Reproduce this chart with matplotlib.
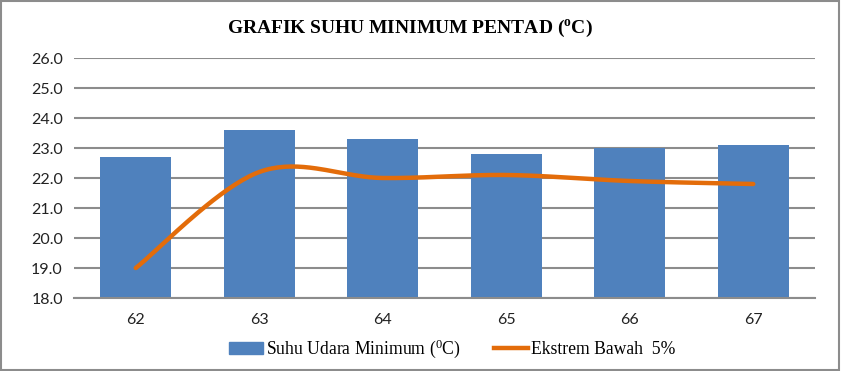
import numpy as np
import matplotlib
matplotlib.use("Agg")
import matplotlib.pyplot as plt
from matplotlib.patches import Rectangle
from matplotlib.lines import Line2D

categories = ["62", "63", "64", "65", "66", "67"]
suhu_min = [22.7, 23.6, 23.3, 22.8, 23.0, 23.1]
ekstrem_bawah = [19.0, 22.2, 22.0, 22.1, 21.9, 21.8]
yticks = [18.0, 19.0, 20.0, 21.0, 22.0, 23.0, 24.0, 25.0, 26.0]

plt.rcParams['mathtext.fontset'] = 'custom'
plt.rcParams['mathtext.rm'] = 'Liberation Serif'
plt.rcParams['mathtext.it'] = 'Liberation Serif'
plt.rcParams['mathtext.bf'] = 'Liberation Serif:bold'


def smooth(xs, ys, n=40):
    # Catmull-Rom style smoothing (like Excel smoothed lines)
    xs = np.asarray(xs, float); ys = np.asarray(ys, float)
    px = np.concatenate([[xs[0]], xs, [xs[-1]]])
    py = np.concatenate([[ys[0]], ys, [ys[-1]]])
    outx, outy = [], []
    for i in range(1, len(px) - 2):
        p0 = np.array([px[i - 1], py[i - 1]]); p1 = np.array([px[i], py[i]])
        p2 = np.array([px[i + 1], py[i + 1]]); p3 = np.array([px[i + 2], py[i + 2]])
        c1 = p1 + (p2 - p0) / 6.0
        c2 = p2 - (p3 - p1) / 6.0
        t = np.linspace(0, 1, n)[:, None]
        pts = (1 - t) ** 3 * p1 + 3 * (1 - t) ** 2 * t * c1 + 3 * (1 - t) * t ** 2 * c2 + t ** 3 * p2
        outx.extend(pts[:, 0]); outy.extend(pts[:, 1])
    return outx, outy


fig = plt.figure(figsize=(8.41, 3.71), dpi=100)
fig.patches.append(Rectangle((0.001, 0.002), 0.997, 0.995, transform=fig.transFigure,
                             fill=False, edgecolor='#8c8c8c', linewidth=1.5))
ax = fig.add_axes([74 / 841, 1 - 298 / 371, 741 / 841, 240 / 371])

x = np.arange(len(categories))
ax.bar(x, suhu_min, width=0.575, color='#4f81bd', zorder=2, bottom=0)
sx, sy = smooth(x, ekstrem_bawah)
ax.plot(sx, sy, color='#e36c0a', linewidth=3.2, solid_capstyle='round', zorder=3)

ax.set_xlim(-0.5, len(categories) - 0.5)
ax.set_ylim(18.0, 26.0)
ax.set_yticks(yticks)
ax.set_yticklabels([f"{v:.1f}" for v in yticks], fontsize=11.5, family='Lato', color='#222222')
ax.set_xticks(x)
ax.set_xticklabels(categories, fontsize=11.5, family='Lato', color='#222222')
ax.tick_params(axis='y', length=0, pad=8)
ax.tick_params(axis='x', length=0, pad=11)
ax.yaxis.grid(True, color='#8c8c8c', linewidth=1.5, zorder=0)
ax.set_axisbelow(True)
for s in ['top', 'right', 'left']:
    ax.spines[s].set_visible(False)
ax.spines['bottom'].set_color('#8c8c8c')
ax.spines['bottom'].set_linewidth(1.5)

fig.text(410 / 841, 1 - 28 / 371, r"GRAFIK SUHU MINIMUM PENTAD ($^{\mathbf{o}}$C)", ha='center', va='center',
         fontsize=14, fontweight='bold', family='Liberation Serif')

handles = [Rectangle((0, 0), 1, 1, color='#4f81bd'),
           Line2D([0], [0], color='#e36c0a', linewidth=3.2)]
labels = [r"Suhu Udara Minimum ($^{0}$C)", "Ekstrem Bawah  5%"]
fig.legend(handles, labels, loc='center', bbox_to_anchor=(452 / 841, 1 - 349 / 371), ncol=2,
           frameon=False, prop={'family': 'Liberation Serif', 'size': 12.7}, handlelength=1.95,
           handletextpad=0.15, columnspacing=1.9, handleheight=0.6)

fig.savefig("out.png", dpi=100)
